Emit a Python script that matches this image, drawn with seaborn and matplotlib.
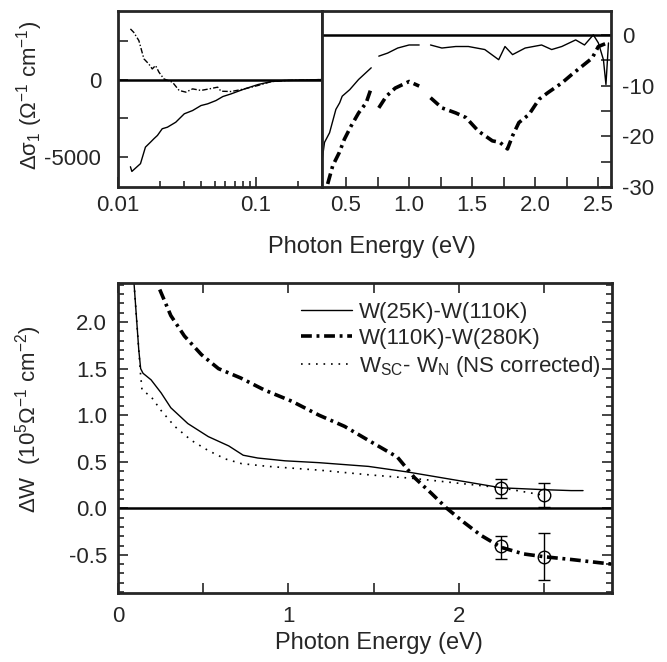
import numpy as np
import pandas as pd
import matplotlib
matplotlib.use("Agg")
import matplotlib.pyplot as plt
import seaborn as sns
from matplotlib.ticker import FixedLocator, NullFormatter, MultipleLocator, FormatStrFormatter

# ---------------- data ----------------
# top-left panel (log energy scale)
tl_solid_x = [0.0123, 0.0126, 0.01455, 0.0158, 0.0172, 0.0182, 0.0193, 0.0209, 0.0228, 0.0262, 0.0302, 0.0347,
              0.0399, 0.0446, 0.0512, 0.0575, 0.066, 0.0826, 0.1034, 0.129, 0.16, 0.3]
tl_solid_y = [-5600, -5900, -5400, -4340, -4020, -3800, -3590, -3160, -3060, -2740, -2200, -1990,
              -1670, -1560, -1350, -1090, -920, -600, -320, -130, -60, 0]
tl_dash_x = [0.0123, 0.0130, 0.01416, 0.0154, 0.0167, 0.0177, 0.0187, 0.0198, 0.0215, 0.0248, 0.0277, 0.031,
             0.0347, 0.0399, 0.0458, 0.0527, 0.0557, 0.066, 0.0826, 0.1034, 0.129, 0.17, 0.3]
tl_dash_y = [3250, 3030, 2500, 1330, 1000, 680, 900, 470, 40, -170, -700, -810,
             -600, -700, -600, -490, -750, -770, -600, -380, -130, -60, 0]

# top-right panel (linear energy scale), NaN = gap in the data
tr_solid_x = [0.308, 0.33, 0.37, 0.42, 0.45, 0.47, 0.53, 0.60, 0.70, 0.72, 0.76, 0.83, 0.91, 1.00, 1.08, 1.12,
              1.17, 1.26, 1.37, 1.47, 1.60, 1.71, 1.76, 1.82, 1.92, 2.05, 2.13, 2.21, 2.32, 2.39, 2.46, 2.50, 2.54, 2.56, 2.58]
tr_solid_y = [-25.2, -21.2, -19.3, -14.7, -13.4, -12.1, -10.8, -8.8, -6.5, np.nan, -4.2, -3.6, -2.6, -2.0, -2.0, np.nan,
              -2.0, -2.6, -2.3, -2.3, -2.9, -4.9, -2.3, -3.9, -2.6, -2.0, -2.9, -2.3, -1.0, -2.0, 0.0, -1.6, -4.9, -9.8, -1.6]
tr_dash_x = [0.355, 0.395, 0.447, 0.487, 0.54, 0.60, 0.66, 0.70, 0.72, 0.76, 0.82, 0.89, 1.00, 1.08, 1.12,
             1.17, 1.26, 1.37, 1.45, 1.55, 1.66, 1.72, 1.78, 1.82, 1.87, 1.95, 2.03, 2.10, 2.21, 2.29, 2.37, 2.45, 2.50, 2.57]
tr_dash_y = [-29.4, -25.8, -23.2, -20.6, -18.0, -15.4, -13.4, -10.5, np.nan, -14.4, -12.1, -10.5, -9.2, -10.1, np.nan,
             -12.4, -14.4, -15.4, -16.3, -19.0, -20.9, -21.2, -22.5, -19.9, -17.3, -15.7, -12.7, -11.4, -9.5, -7.8, -6.2, -4.6, -2.3, -1.6]

# bottom panel
w1_x = [0.094, 0.122, 0.133, 0.147, 0.194, 0.253, 0.31, 0.41, 0.53, 0.65, 0.735, 0.82, 0.98, 1.18, 1.47, 1.70, 2.25, 2.50, 2.66, 2.73]
w1_y = [2.42, 1.70, 1.50, 1.45, 1.38, 1.24, 1.08, 0.91, 0.77, 0.67, 0.57, 0.54, 0.51, 0.49, 0.45, 0.39, 0.22, 0.20, 0.19, 0.19]
w2_x = [0.245, 0.31, 0.39, 0.49, 0.59, 0.72, 0.86, 1.02, 1.18, 1.33, 1.47, 1.64, 1.74, 1.84, 1.93, 2.03, 2.13, 2.25, 2.38, 2.50, 2.66, 2.90]
w2_y = [2.35, 2.07, 1.85, 1.65, 1.50, 1.40, 1.27, 1.15, 1.00, 0.88, 0.73, 0.55, 0.33, 0.16, 0.0, -0.15, -0.29, -0.42, -0.49, -0.52, -0.55, -0.60]
w3_x = [0.094, 0.122, 0.132, 0.141, 0.194, 0.253, 0.333, 0.43, 0.53, 0.63, 0.725, 0.88, 1.18, 1.47, 1.74, 2.25, 2.50]
w3_y = [2.42, 1.70, 1.45, 1.27, 1.20, 1.05, 0.88, 0.73, 0.62, 0.53, 0.48, 0.45, 0.41, 0.36, 0.32, 0.22, 0.14]

err_x = [2.25, 2.50]
err_sc_y = [0.215, 0.14]
err_sc_lo = [0.105, 0.13]
err_sc_hi = [0.095, 0.13]
err_n_y = [-0.41, -0.52]
err_n_lo = [0.13, 0.25]
err_n_hi = [0.11, 0.25]

labels = ["W(25K)-W(110K)", "W(110K)-W(280K)", r"W$_{\rm SC}$- W$_{\rm N}$ (NS corrected)"]


def seg_frame(x, y):
    y = np.asarray(y, dtype=float)
    seg = np.cumsum(np.isnan(y))
    df = pd.DataFrame({"x": x, "y": y, "seg": seg})
    return df.dropna()


# ---------------- style ----------------
sns.set_theme(style="ticks")
plt.rcParams["font.family"] = ["Liberation Sans", "DejaVu Sans"]
plt.rcParams["mathtext.fontset"] = "custom"
plt.rcParams["mathtext.rm"] = "Liberation Sans"
plt.rcParams["mathtext.it"] = "Liberation Sans:italic"
plt.rcParams["mathtext.bf"] = "Liberation Sans:bold"
plt.rcParams["axes.linewidth"] = 2.0
plt.rcParams["xtick.direction"] = "in"
plt.rcParams["ytick.direction"] = "in"

FS = 16
W, H = 667, 662
fig = plt.figure(figsize=(W / 100, H / 100), dpi=100)


def rect(l, t, r, b):
    return [l / W, 1 - b / H, (r - l) / W, (b - t) / H]


ax1 = fig.add_axes(rect(118, 11, 322, 187))
ax2 = fig.add_axes(rect(322, 11, 611, 187))
ax3 = fig.add_axes(rect(118, 283, 612, 593))

# ---- top-left ----
sns.lineplot(data=pd.DataFrame({"x": tl_solid_x, "y": tl_solid_y}), x="x", y="y", ax=ax1,
             color="black", lw=1.0, estimator=None, sort=False)
sns.lineplot(data=pd.DataFrame({"x": tl_dash_x, "y": tl_dash_y}), x="x", y="y", ax=ax1,
             color="black", lw=1.0, estimator=None, sort=False, linestyle=(0, (4, 1.5, 1, 1.5)))
ax1.axhline(0, color="black", lw=1.8)
ax1.set_xscale("log")
ax1.set_xlim(0.01, 0.3)
ax1.set_ylim(-6900, 4400)
ax1.set_xticks([0.01, 0.1])
ax1.set_xticklabels(["0.01", "0.1"], fontsize=FS)
ax1.xaxis.set_minor_locator(FixedLocator([0.02, 0.03, 0.04, 0.05, 0.06, 0.07, 0.08, 0.09, 0.2, 0.3]))
ax1.xaxis.set_minor_formatter(NullFormatter())
ax1.set_yticks([-5000, -2500, 0, 2500])
ax1.set_yticklabels(["-5000", "", "0", ""], fontsize=FS)
ax1.tick_params(axis="both", which="major", length=7, width=1.2)
ax1.tick_params(axis="x", which="minor", length=4, width=1.2)
ax1.tick_params(axis="y", pad=12)
ax1.tick_params(axis="x", pad=6)
ax1.set_xlabel("")
ax1.set_ylabel("")

# ---- top-right ----
sns.lineplot(data=seg_frame(tr_solid_x, tr_solid_y), x="x", y="y", units="seg", ax=ax2,
             color="black", lw=1.0, estimator=None, sort=False)
sns.lineplot(data=seg_frame(tr_dash_x, tr_dash_y), x="x", y="y", units="seg", ax=ax2,
             color="black", lw=2.6, estimator=None, sort=False, linestyle=(0, (3, 1.3, 0.8, 1.3)))
ax2.axhline(0, color="black", lw=1.8)
ax2.set_xlim(0.31, 2.6)
ax2.set_ylim(-30, 4.7)
ax2.set_xticks([0.5, 1.0, 1.5, 2.0, 2.5])
ax2.set_xticklabels(["0.5", "1.0", "1.5", "2.0", "2.5"], fontsize=FS)
ax2.xaxis.set_minor_locator(MultipleLocator(0.25))
ax2.set_yticks([-30, -20, -10, 0])
ax2.set_yticklabels(["-30", "-20", "-10", "0"], fontsize=FS)
ax2.yaxis.set_minor_locator(MultipleLocator(5))
ax2.yaxis.tick_right()
ax2.tick_params(axis="both", which="major", length=7, width=1.2)
ax2.tick_params(axis="both", which="minor", length=7, width=1.2)
ax2.tick_params(axis="y", pad=8)
ax2.tick_params(axis="x", pad=6)
ax2.set_xlabel("")
ax2.set_ylabel("")

# ---- bottom ----
sns.lineplot(data=pd.DataFrame({"x": w1_x, "y": w1_y}), x="x", y="y", ax=ax3,
             color="black", lw=1.0, estimator=None, sort=False, label=labels[0])
sns.lineplot(data=pd.DataFrame({"x": w2_x, "y": w2_y}), x="x", y="y", ax=ax3,
             color="black", lw=2.6, estimator=None, sort=False, label=labels[1],
             linestyle=(0, (3, 1.3, 0.8, 1.3)))
sns.lineplot(data=pd.DataFrame({"x": w3_x, "y": w3_y}), x="x", y="y", ax=ax3,
             color="black", lw=1.2, estimator=None, sort=False, label=labels[2],
             linestyle=(0, (1, 3.5)))
ax3.errorbar(err_x, err_sc_y, yerr=[err_sc_lo, err_sc_hi], fmt="o", mfc="none", mec="black",
             ecolor="black", ms=9, mew=1.0, elinewidth=1.0, capsize=4, capthick=1.0)
ax3.errorbar(err_x, err_n_y, yerr=[err_n_lo, err_n_hi], fmt="o", mfc="none", mec="black",
             ecolor="black", ms=9, mew=1.0, elinewidth=1.0, capsize=4, capthick=1.0)
ax3.axhline(0, color="black", lw=1.8)
ax3.set_xlim(0, 2.9)
ax3.set_ylim(-0.91, 2.42)
ax3.set_xticks([0, 1, 2])
ax3.set_xticklabels(["0", "1", "2"], fontsize=FS)
ax3.xaxis.set_minor_locator(MultipleLocator(0.5))
ax3.set_yticks([-0.5, 0.0, 0.5, 1.0, 1.5, 2.0])
ax3.yaxis.set_major_formatter(FormatStrFormatter("%.1f"))
ax3.tick_params(axis="y", labelsize=FS, pad=8)
ax3.tick_params(axis="x", pad=9)
ax3.yaxis.set_minor_locator(MultipleLocator(0.1))
ax3.tick_params(axis="both", which="both", top=True, right=True)
ax3.tick_params(axis="both", which="major", length=7, width=1.2)
ax3.tick_params(axis="x", which="minor", length=7, width=1.2)
ax3.tick_params(axis="y", which="minor", length=4, width=1.2)
ax3.set_xlabel("")
ax3.set_ylabel("")
leg = ax3.legend(loc="upper right", frameon=False, fontsize=FS, handlelength=2.3,
                 handletextpad=0.3, labelspacing=0.22, bbox_to_anchor=(0.995, 0.968), borderaxespad=0)

# ---- figure-level labels ----
fig.text(372 / W, 1 - 247 / H, "Photon Energy (eV)", ha="center", va="center", fontsize=FS + 1)
fig.text(379 / W, 1 - 643 / H, "Photon Energy (eV)", ha="center", va="center", fontsize=FS + 1)
fig.text(30 / W, 1 - 95 / H, r"$\mathregular{\Delta\sigma_1\ (\Omega^{-1}\ cm^{-1})}$",
         rotation=90, ha="center", va="center", fontsize=FS)
fig.text(29 / W, 1 - 419 / H, r"$\mathregular{\Delta W\ \ (10^5\Omega^{-1}\ cm^{-2})}$",
         rotation=90, ha="center", va="center", fontsize=FS)

for a in (ax1, ax2, ax3):
    for s in a.spines.values():
        s.set_linewidth(2.0)
        s.set_visible(True)

fig.savefig("out.png", dpi=100)
